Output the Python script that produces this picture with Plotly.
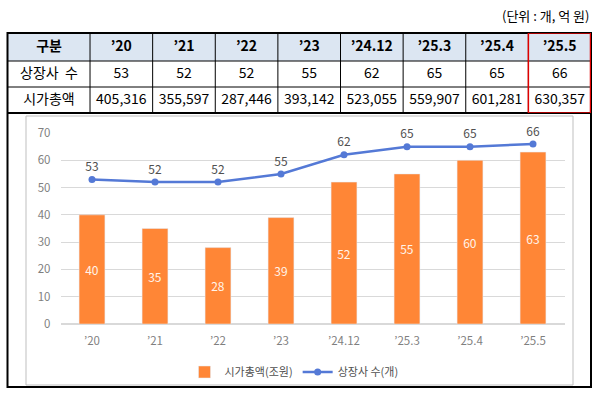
import plotly.graph_objects as go

categories = ["’20", "’21", "’22", "’23", "’24.12", "’25.3", "’25.4", "’25.5"]
listed_count = [53, 52, 52, 55, 62, 65, 65, 66]
market_cap_tril = [40, 35, 28, 39, 52, 55, 60, 63]
market_cap_100m = ["405,316", "355,597", "287,446", "393,142", "523,055", "559,907", "601,281", "630,357"]
row_labels = ["상장사  수", "시가총액"]
header_label = "구분"
unit_text = "(단위 : 개, 억 원)"
bar_name = "시가총액(조원)"
line_name = "상장사 수(개)"

W, H = 600, 394
def px(x):
    return x / W
def py(y):
    return 1 - y / H

FONT = "Noto Sans CJK KR"
ORANGE = "#FF8636"
BLUE = "#5479D6"
GRAY_TXT = "#505050"
TICK_GRAY = "#7F7F7F"
HEAD_BG = "#DCE6F2"

fig = go.Figure()

# ---------- Table on its own cartesian axes (x2, y2) ----------
col_widths = [82] + [62.6] * len(categories)
row_heights = [28, 26, 26]
x_edges = [0]
for w in col_widths:
    x_edges.append(x_edges[-1] + w)
y_edges = [0]
for h in row_heights:
    y_edges.append(y_edges[-1] + h)
x_cent = [(x_edges[i] + x_edges[i + 1]) / 2 for i in range(len(col_widths))]
y_cent = [(y_edges[i] + y_edges[i + 1]) / 2 for i in range(len(row_heights))]

# cell fills (header row shaded)
z = [[1] * len(col_widths), [0] * len(col_widths), [0] * len(col_widths)]
fig.add_trace(go.Heatmap(
    x=x_edges, y=y_edges, z=z, colorscale=[[0, "white"], [1, HEAD_BG]],
    showscale=False, hoverinfo="skip", xaxis="x2", yaxis="y2",
))

table_rows = [
    [f"<b>{header_label}</b>"] + [f"<b>{c}</b>" for c in categories],
    [row_labels[0]] + [str(n) for n in listed_count],
    [row_labels[1]] + market_cap_100m,
]
tx, ty, tt = [], [], []
for r, row in enumerate(table_rows):
    for c, val in enumerate(row):
        tx.append(x_cent[c]); ty.append(y_cent[r]); tt.append(val)
fig.add_trace(go.Scatter(
    x=tx, y=ty, text=tt, mode="text", textposition="middle center",
    textfont=dict(family=FONT, size=14, color="black"),
    hoverinfo="skip", showlegend=False, xaxis="x2", yaxis="y2",
))

# ---------- Chart ----------
fig.add_trace(go.Bar(
    x=categories, y=market_cap_tril, name=bar_name, marker_color=ORANGE,
    width=0.41, text=market_cap_tril, textposition="inside",
    insidetextanchor="middle", textfont=dict(family=FONT, size=12, color="#FFF4EA"),
    xaxis="x", yaxis="y",
))
fig.add_trace(go.Scatter(
    x=categories, y=listed_count, name=line_name, mode="lines+markers+text",
    line=dict(color=BLUE, width=2.5), marker=dict(size=7, color=BLUE),
    text=listed_count, textposition="top center", cliponaxis=False,
    textfont=dict(family=FONT, size=12, color=GRAY_TXT),
    xaxis="x", yaxis="y",
))

fig.update_layout(
    width=W, height=H, margin=dict(l=0, r=0, t=0, b=0, pad=0, autoexpand=False),
    paper_bgcolor="white", plot_bgcolor="white",
    font=dict(family=FONT, color=GRAY_TXT),
    xaxis=dict(domain=[px(60.5), px(564.5)], showgrid=False, showline=False, automargin=False,
               ticks="", tickfont=dict(size=11.5, color=TICK_GRAY), ticklabelstandoff=8),
    yaxis=dict(domain=[py(324), py(133)], range=[0, 70], dtick=10, automargin=False,
               gridcolor="#D9D9D9", zeroline=True, zerolinecolor="#D9D9D9",
               showline=False, ticks="", tickfont=dict(size=11.5, color=TICK_GRAY),
               ticklabelstandoff=9),
    xaxis2=dict(domain=[px(8), px(591)], range=[0, x_edges[-1]], visible=False,
                fixedrange=True, automargin=False),
    yaxis2=dict(domain=[py(113), py(33)], range=[y_edges[-1], 0], visible=False,
                fixedrange=True, automargin=False),
    legend=dict(orientation="h", x=0.49, xanchor="center", y=py(372), yanchor="middle",
                font=dict(size=11, color=GRAY_TXT), itemwidth=30,
                bgcolor="rgba(0,0,0,0)", traceorder="normal"),
    showlegend=True,
    bargap=0.5,
)

# table borders (in table axis units)
for xe in x_edges[1:-1]:
    fig.add_shape(type="line", xref="x2", yref="y2", x0=xe, x1=xe, y0=y_edges[0], y1=y_edges[-1],
                  line=dict(color="black", width=1))
for ye in y_edges[1:-1]:
    fig.add_shape(type="line", xref="x2", yref="y2", x0=x_edges[0], x1=x_edges[-1], y0=ye, y1=ye,
                  line=dict(color="black", width=1))

fig.add_annotation(text=unit_text, x=px(591), y=py(15), xref="paper", yref="paper",
                   xanchor="right", yanchor="middle", showarrow=False,
                   font=dict(family=FONT, size=13, color="black"))

# frame borders
fig.add_shape(type="rect", xref="paper", yref="paper", x0=px(26), x1=px(573),
              y0=py(385), y1=py(116), line=dict(color="#BFBFBF", width=1))
fig.add_shape(type="rect", xref="paper", yref="paper", x0=px(7.5), x1=px(591),
              y0=py(387), y1=py(33), line=dict(color="black", width=2))
fig.add_shape(type="line", xref="paper", yref="paper", x0=px(7.5), x1=px(591),
              y0=py(113), y1=py(113), line=dict(color="black", width=2))
fig.add_shape(type="rect", xref="x2", yref="y2", x0=x_edges[-2], x1=x_edges[-1] - 0.5,
              y0=y_edges[0], y1=y_edges[-1], line=dict(color="#E00000", width=1.5))

fig.write_html("out.html", config={"displayModeBar": False},
               post_script="document.body.style.margin='0';document.documentElement.style.overflow='hidden';document.body.style.overflow='hidden';")
